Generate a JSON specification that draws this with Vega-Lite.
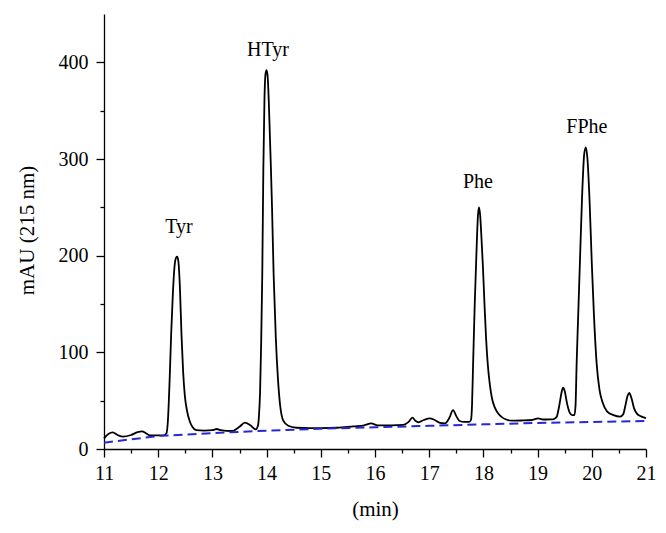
{
  "$schema": "https://vega.github.io/schema/vega-lite/v6.json",
  "autosize": {"type": "none"},
  "padding": {"left": 104, "top": 14, "right": 20, "bottom": 84},
  "width": 542,
  "height": 435,
  "background": "white",
  "config": {
    "view": {"stroke": null},
    "axis": {
      "grid": false,
      "labelFont": "Liberation Serif",
      "titleFont": "Liberation Serif",
      "labelFontSize": 20,
      "titleFontSize": 21,
      "titleFontWeight": "normal",
      "labelColor": "black",
      "titleColor": "black",
      "domainColor": "black",
      "tickColor": "black",
      "domainWidth": 1.3,
      "tickWidth": 1.3
    }
  },
  "datasets": {
    "trace": [
      {"time": 11.00, "mAU": 11}, {"time": 11.08, "mAU": 15.5}, {"time": 11.16, "mAU": 17.2}, {"time": 11.25, "mAU": 14.5},
      {"time": 11.35, "mAU": 12.7}, {"time": 11.50, "mAU": 14.5}, {"time": 11.62, "mAU": 17.5}, {"time": 11.70, "mAU": 18.3},
      {"time": 11.78, "mAU": 16}, {"time": 11.85, "mAU": 14.1}, {"time": 12.00, "mAU": 14}, {"time": 12.10, "mAU": 14},
      {"time": 12.15, "mAU": 16}, {"time": 12.18, "mAU": 30}, {"time": 12.21, "mAU": 70}, {"time": 12.24, "mAU": 120},
      {"time": 12.27, "mAU": 160}, {"time": 12.30, "mAU": 188}, {"time": 12.33, "mAU": 198}, {"time": 12.35, "mAU": 199},
      {"time": 12.37, "mAU": 195}, {"time": 12.40, "mAU": 168}, {"time": 12.43, "mAU": 118}, {"time": 12.46, "mAU": 80},
      {"time": 12.49, "mAU": 56}, {"time": 12.53, "mAU": 40}, {"time": 12.58, "mAU": 29}, {"time": 12.63, "mAU": 23},
      {"time": 12.70, "mAU": 19.5}, {"time": 12.85, "mAU": 19}, {"time": 13.00, "mAU": 19.5}, {"time": 13.08, "mAU": 20.7},
      {"time": 13.15, "mAU": 19.5}, {"time": 13.36, "mAU": 18.6}, {"time": 13.50, "mAU": 23}, {"time": 13.60, "mAU": 27.2},
      {"time": 13.70, "mAU": 24.5}, {"time": 13.80, "mAU": 20.3}, {"time": 13.84, "mAU": 24}, {"time": 13.86, "mAU": 35},
      {"time": 13.88, "mAU": 60}, {"time": 13.90, "mAU": 110}, {"time": 13.92, "mAU": 180}, {"time": 13.94, "mAU": 290},
      {"time": 13.96, "mAU": 360}, {"time": 13.98, "mAU": 388}, {"time": 14.00, "mAU": 392}, {"time": 14.02, "mAU": 385},
      {"time": 14.04, "mAU": 360}, {"time": 14.06, "mAU": 325}, {"time": 14.08, "mAU": 290}, {"time": 14.10, "mAU": 250},
      {"time": 14.13, "mAU": 180}, {"time": 14.17, "mAU": 115}, {"time": 14.21, "mAU": 72}, {"time": 14.25, "mAU": 45},
      {"time": 14.31, "mAU": 29}, {"time": 14.40, "mAU": 24}, {"time": 14.55, "mAU": 22}, {"time": 14.80, "mAU": 21.5},
      {"time": 15.00, "mAU": 21.5}, {"time": 15.30, "mAU": 22}, {"time": 15.60, "mAU": 23.5}, {"time": 15.80, "mAU": 24.5},
      {"time": 15.93, "mAU": 26.5}, {"time": 16.05, "mAU": 24.5}, {"time": 16.30, "mAU": 24.5}, {"time": 16.52, "mAU": 25},
      {"time": 16.62, "mAU": 28}, {"time": 16.69, "mAU": 32.4}, {"time": 16.75, "mAU": 29}, {"time": 16.80, "mAU": 27.6},
      {"time": 16.90, "mAU": 30}, {"time": 17.01, "mAU": 31.7}, {"time": 17.10, "mAU": 30}, {"time": 17.20, "mAU": 27},
      {"time": 17.29, "mAU": 26.5}, {"time": 17.37, "mAU": 32}, {"time": 17.44, "mAU": 40.3}, {"time": 17.50, "mAU": 34},
      {"time": 17.56, "mAU": 29}, {"time": 17.65, "mAU": 28}, {"time": 17.74, "mAU": 28}, {"time": 17.77, "mAU": 30},
      {"time": 17.79, "mAU": 45}, {"time": 17.81, "mAU": 88}, {"time": 17.84, "mAU": 150}, {"time": 17.87, "mAU": 200},
      {"time": 17.90, "mAU": 242}, {"time": 17.92, "mAU": 250}, {"time": 17.94, "mAU": 242}, {"time": 17.97, "mAU": 212},
      {"time": 17.99, "mAU": 190}, {"time": 18.02, "mAU": 150}, {"time": 18.05, "mAU": 114}, {"time": 18.08, "mAU": 88},
      {"time": 18.12, "mAU": 66}, {"time": 18.16, "mAU": 52}, {"time": 18.21, "mAU": 43}, {"time": 18.27, "mAU": 37},
      {"time": 18.34, "mAU": 33}, {"time": 18.42, "mAU": 30.5}, {"time": 18.52, "mAU": 29.3}, {"time": 18.70, "mAU": 29.5},
      {"time": 18.90, "mAU": 30},
      {"time": 19.01, "mAU": 31.7}, {"time": 19.10, "mAU": 30.5}, {"time": 19.23, "mAU": 30.7}, {"time": 19.30, "mAU": 31},
      {"time": 19.35, "mAU": 33}, {"time": 19.40, "mAU": 45}, {"time": 19.44, "mAU": 58}, {"time": 19.47, "mAU": 63.4},
      {"time": 19.50, "mAU": 60}, {"time": 19.54, "mAU": 48}, {"time": 19.59, "mAU": 38}, {"time": 19.64, "mAU": 35},
      {"time": 19.68, "mAU": 35}, {"time": 19.70, "mAU": 45}, {"time": 19.72, "mAU": 88}, {"time": 19.75, "mAU": 140},
      {"time": 19.78, "mAU": 192}, {"time": 19.82, "mAU": 260}, {"time": 19.86, "mAU": 305}, {"time": 19.89, "mAU": 312},
      {"time": 19.92, "mAU": 300}, {"time": 19.96, "mAU": 255}, {"time": 20.00, "mAU": 192}, {"time": 20.04, "mAU": 138},
      {"time": 20.09, "mAU": 88}, {"time": 20.14, "mAU": 62}, {"time": 20.20, "mAU": 48}, {"time": 20.28, "mAU": 39},
      {"time": 20.40, "mAU": 35}, {"time": 20.52, "mAU": 33.4}, {"time": 20.58, "mAU": 36}, {"time": 20.62, "mAU": 45},
      {"time": 20.66, "mAU": 55}, {"time": 20.69, "mAU": 58}, {"time": 20.73, "mAU": 53}, {"time": 20.78, "mAU": 42},
      {"time": 20.84, "mAU": 36}, {"time": 20.90, "mAU": 34}, {"time": 21.00, "mAU": 32}
    ],
    "baseline": [
      {"time": 11.0, "mAU": 6.5}, {"time": 11.5, "mAU": 10}, {"time": 12.0, "mAU": 13.5}, {"time": 12.5, "mAU": 15},
      {"time": 13.0, "mAU": 16.5}, {"time": 14.0, "mAU": 19}, {"time": 15.0, "mAU": 21}, {"time": 16.0, "mAU": 22.5},
      {"time": 17.0, "mAU": 24}, {"time": 18.0, "mAU": 25.5}, {"time": 19.0, "mAU": 27}, {"time": 20.0, "mAU": 28},
      {"time": 21.0, "mAU": 29}
    ],
    "labels": [
      {"time": 12.384, "mAU": 223, "compound": "Tyr"},
      {"time": 14.026, "mAU": 407, "compound": "HTyr"},
      {"time": 17.90, "mAU": 270.5, "compound": "Phe"},
      {"time": 19.91, "mAU": 326.5, "compound": "FPhe"}
    ]
  },
  "layer": [
    {
      "data": {"name": "trace"},
      "mark": {"type": "line", "color": "black", "strokeWidth": 1.8, "interpolate": "monotone"},
      "encoding": {
        "x": {
          "field": "time", "type": "quantitative",
          "scale": {"domain": [11, 21], "nice": false, "zero": false},
          "axis": {"orient": "bottom", "values": [11, 12, 13, 14, 15, 16, 17, 18, 19, 20, 21], "tickSize": 8, "labelPadding": 6, "title": "(min)", "titleX": 271, "titleY": 66, "titleBaseline": "alphabetic", "titleAlign": "center", "labelFlush": false, "labelOverlap": false}
        },
        "y": {
          "field": "mAU", "type": "quantitative",
          "scale": {"domain": [0, 450], "nice": false, "zero": true},
          "axis": {"orient": "left", "values": [0, 100, 200, 300, 400], "tickSize": 8, "labelPadding": 8, "title": "mAU (215 nm)", "titleX": -71, "titleY": 216, "titleAngle": -90, "titleBaseline": "alphabetic", "titleAlign": "center", "labelFlush": false, "labelOverlap": false}
        }
      }
    },
    {
      "data": {"name": "baseline"},
      "mark": {"type": "line", "color": "#2828d2", "strokeWidth": 2, "strokeDash": [9, 5]},
      "encoding": {
        "x": {
          "field": "time", "type": "quantitative",
          "axis": {"orient": "bottom", "values": [11.5, 12.5, 13.5, 14.5, 15.5, 16.5, 17.5, 18.5, 19.5, 20.5], "tickSize": 4, "labels": false, "domain": false, "title": null}
        },
        "y": {
          "field": "mAU", "type": "quantitative",
          "axis": {"orient": "left", "values": [50, 150, 250, 350], "tickSize": 4, "labels": false, "domain": false, "title": null}
        }
      }
    },
    {
      "data": {"name": "labels"},
      "mark": {"type": "text", "font": "Liberation Serif", "fontSize": 20, "align": "center", "baseline": "alphabetic", "color": "black"},
      "encoding": {
        "x": {"field": "time", "type": "quantitative", "axis": null},
        "y": {"field": "mAU", "type": "quantitative", "axis": null},
        "text": {"field": "compound"}
      }
    }
  ],
  "resolve": {"axis": {"x": "independent", "y": "independent"}}
}
